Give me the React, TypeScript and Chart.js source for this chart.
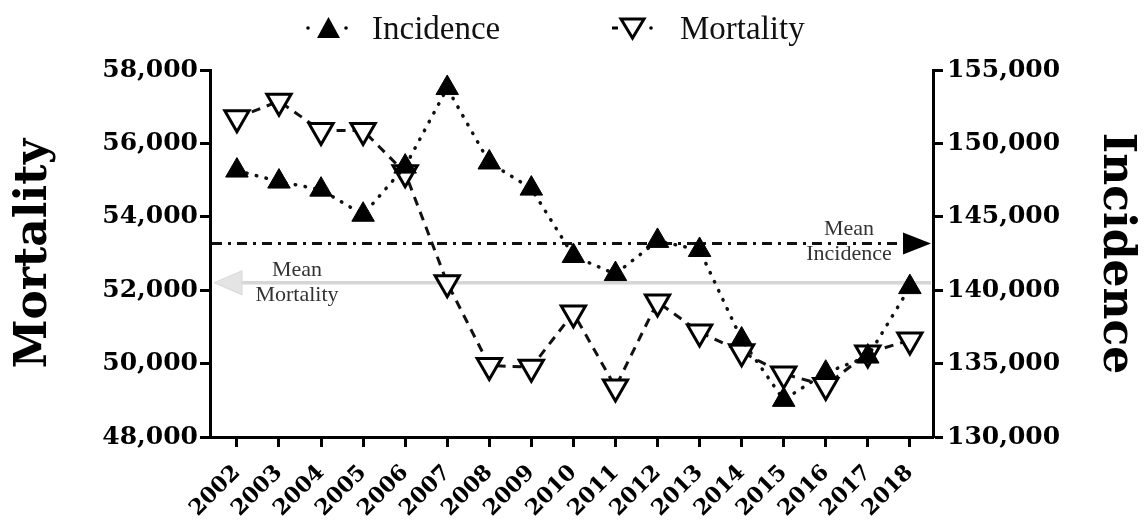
import React, { useEffect, useRef } from 'react';
import { Chart, registerables } from 'chart.js';

Chart.register(...registerables);

// ---- data ----
const years = [2002, 2003, 2004, 2005, 2006, 2007, 2008, 2009, 2010, 2011, 2012, 2013, 2014, 2015, 2016, 2017, 2018];
const incidence = [148150, 147400, 146850, 145140, 148420, 153770, 148700, 146920, 142330, 141100, 143360, 142740, 136640, 132530, 134380, 135480, 140210];
const mortality = [56700, 57150, 56350, 56350, 55200, 52200, 49950, 49900, 51380, 49360, 51680, 50860, 50320, 49720, 49400, 50290, 50640];
const mortalityRange = [48000, 58000, 2000];
const incidenceRange = [130000, 155000, 5000];
const seriesLabels = ['Incidence', 'Mortality'];
const meanIncidenceLabel = ['Mean', 'Incidence'];
const meanMortalityLabel = ['Mean', 'Mortality'];

const mean = (a: number[]) => a.reduce((s, v) => s + v, 0) / a.length;

const SERIF = '"Liberation Serif", "DejaVu Serif", serif';
const BOLD_SERIF = '"DejaVu Serif", serif';

const overlayPlugin = {
  id: 'overlay',
  beforeDatasetsDraw(chart: any) {
    const { ctx, chartArea, scales } = chart;
    const yInc = scales.y1.getPixelForValue(mean(incidence));
    const yMort = scales.y.getPixelForValue(mean(mortality));
    const L = chartArea.left;
    const R = chartArea.right;
    ctx.save();
    // mean mortality (light grey, arrow to the left)
    ctx.setLineDash([]);
    ctx.strokeStyle = '#d6d6d6';
    ctx.lineWidth = 3.5;
    ctx.beginPath();
    ctx.moveTo(L + 30, yMort);
    ctx.lineTo(R - 2, yMort);
    ctx.stroke();
    ctx.fillStyle = '#e4e4e4';
    ctx.strokeStyle = '#d8d8d8';
    ctx.lineWidth = 1;
    ctx.beginPath();
    ctx.moveTo(L + 4, yMort);
    ctx.lineTo(L + 32, yMort - 12);
    ctx.lineTo(L + 32, yMort + 12);
    ctx.closePath();
    ctx.fill();
    ctx.stroke();
    // mean incidence (dash-dot, arrow to the right)
    ctx.strokeStyle = '#111';
    ctx.lineWidth = 3;
    ctx.setLineDash([10, 6, 3, 6]);
    ctx.beginPath();
    ctx.moveTo(L + 2, yInc);
    ctx.lineTo(R - 28, yInc);
    ctx.stroke();
    ctx.setLineDash([]);
    ctx.fillStyle = '#000';
    ctx.beginPath();
    ctx.moveTo(R - 2, yInc);
    ctx.lineTo(R - 30, yInc - 11);
    ctx.lineTo(R - 30, yInc + 11);
    ctx.closePath();
    ctx.fill();
    // labels
    ctx.font = '22px ' + SERIF;
    ctx.fillStyle = '#333';
    ctx.textAlign = 'center';
    ctx.textBaseline = 'middle';
    ctx.fillText(meanIncidenceLabel[0], R - 84, yInc - 14);
    ctx.fillText(meanIncidenceLabel[1], R - 84, yInc + 11);
    ctx.fillText(meanMortalityLabel[0], L + 87, yMort - 13);
    ctx.fillText(meanMortalityLabel[1], L + 87, yMort + 12);
    ctx.restore();
  },
  afterDraw(chart: any) {
    const { ctx } = chart;
    ctx.save();
    // incidence legend symbol
    ctx.fillStyle = '#000';
    [308, 346].forEach((x) => {
      ctx.beginPath();
      ctx.arc(x, 28, 1.8, 0, Math.PI * 2);
      ctx.fill();
    });
    ctx.beginPath();
    ctx.moveTo(328.5, 17);
    ctx.lineTo(340, 38);
    ctx.lineTo(317, 38);
    ctx.closePath();
    ctx.fill();
    // mortality legend symbol
    ctx.fillRect(612, 26.5, 6, 3);
    ctx.beginPath();
    ctx.arc(651, 28, 1.8, 0, Math.PI * 2);
    ctx.fill();
    ctx.fillStyle = '#fff';
    ctx.strokeStyle = '#000';
    ctx.lineWidth = 3;
    ctx.beginPath();
    ctx.moveTo(621, 19);
    ctx.lineTo(644, 19);
    ctx.lineTo(632.5, 38);
    ctx.closePath();
    ctx.fill();
    ctx.stroke();
    // texts
    ctx.fillStyle = '#111';
    ctx.font = '33px ' + SERIF;
    ctx.textAlign = 'left';
    ctx.textBaseline = 'alphabetic';
    ctx.fillText(seriesLabels[0], 372, 39);
    ctx.fillText(seriesLabels[1], 680, 39);
    ctx.restore();
  },
};

export default function App() {
  const ref = useRef<HTMLCanvasElement | null>(null);

  useEffect(() => {
    if (!ref.current) return;
    const tickFont = { family: BOLD_SERIF, weight: 'bold' as const, size: 25 };
    const grid = {
      display: true,
      drawOnChartArea: false,
      drawTicks: true,
      tickLength: 10,
      tickWidth: 3,
      tickColor: '#000',
    };
    const border = { display: true, color: '#000', width: 3 };
    const chart = new Chart(ref.current, {
      type: 'line',
      data: {
        datasets: [
          {
            label: seriesLabels[0],
            data: years.map((x, i) => ({ x, y: incidence[i] })),
            yAxisID: 'y1',
            borderColor: '#111',
            borderWidth: 3.5,
            borderDash: [0.5, 9.5],
            borderCapStyle: 'round',
            pointStyle: 'triangle',
            pointRadius: 13,
            pointBackgroundColor: '#000',
            pointBorderColor: '#000',
            pointBorderWidth: 1,
            fill: false,
            tension: 0,
            order: 0,
          },
          {
            label: seriesLabels[1],
            data: years.map((x, i) => ({ x, y: mortality[i] })),
            yAxisID: 'y',
            borderColor: '#111',
            borderWidth: 3,
            borderDash: [9, 7],
            pointStyle: 'triangle',
            pointRotation: 180,
            pointRadius: 14,
            pointBackgroundColor: '#fff',
            pointBorderColor: '#000',
            pointBorderWidth: 3,
            fill: false,
            tension: 0,
            order: 1,
          },
        ],
      },
      options: {
        animation: false,
        responsive: false,
        layout: { padding: { top: 70, left: 0, right: 0, bottom: 0 } },
        plugins: { legend: { display: false }, tooltip: { enabled: false } },
        scales: {
          x: {
            type: 'linear',
            min: 2001.36,
            max: 2018.55,
            afterBuildTicks: (s: any) => {
              s.ticks = years.map((v) => ({ value: v }));
            },
            afterFit: (s: any) => {
              s.height = 87;
            },
            ticks: {
              callback: (v: any) => String(v),
              minRotation: 45,
              maxRotation: 45,
              autoSkip: false,
              font: { family: BOLD_SERIF, weight: 'bold', size: 22 },
              color: '#000',
              padding: 13,
            },
            grid,
            border,
          },
          y: {
            position: 'left',
            min: mortalityRange[0],
            max: mortalityRange[1],
            ticks: { stepSize: mortalityRange[2], font: tickFont, color: '#000', padding: 2 },
            title: {
              display: true,
              text: 'Mortality',
              color: '#000',
              font: { family: BOLD_SERIF, weight: 'bold', size: 44 },
              padding: { top: 8, bottom: 0 },
            },
            afterFit: (s: any) => {
              s.width = 210;
            },
            grid,
            border,
          },
          y1: {
            position: 'right',
            min: incidenceRange[0],
            max: incidenceRange[1],
            ticks: { stepSize: incidenceRange[2], font: tickFont, color: '#000', padding: 4 },
            title: {
              display: true,
              text: 'Incidence',
              color: '#000',
              font: { family: BOLD_SERIF, weight: 'bold', size: 44 },
              padding: { top: 6, bottom: 0 },
            },
            afterFit: (s: any) => {
              s.width = 215;
            },
            grid,
            border,
          },
        },
      },
      plugins: [overlayPlugin],
    } as any);
    return () => chart.destroy();
  }, []);

  return (
    <div style={{ position: 'fixed', left: 0, top: 0, width: 1148, height: 524, background: '#fff' }}>
      <canvas ref={ref} width={1148} height={524} style={{ display: 'block' }} />
    </div>
  );
}
